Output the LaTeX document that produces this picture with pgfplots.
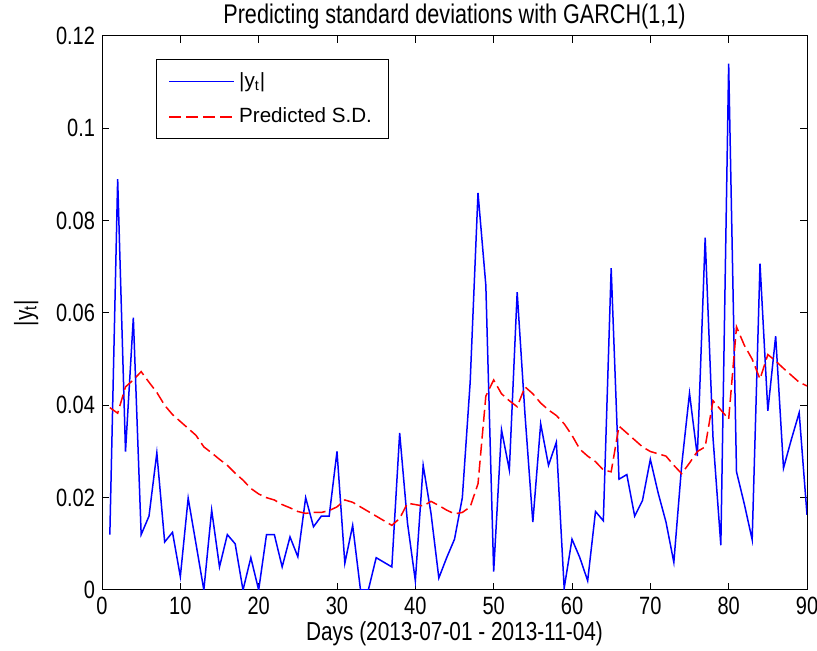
\documentclass[border=0pt]{standalone}
\usepackage{fontspec}
\setmainfont{Liberation Sans}[FakeStretch=0.8]
\newfontfamily\legfont{Liberation Sans}
\usepackage{pgfplots}
\pgfplotsset{compat=1.18}
\pgfplotstableread{
x y s
1 0.012 0.0395
2 0.089 0.0383
3 0.030 0.0440
4 0.059 0.0455
5 0.012 0.0473
6 0.016 0.0450
7 0.0297 0.0428
8 0.0104 0.0400
9 0.0125 0.0380
10 0.0029 0.0365
11 0.0199 0.0350
12 0.010 0.0335
13 0.000 0.0310
14 0.0173 0.0297
15 0.005 0.0283
16 0.012 0.0270
17 0.010 0.0253
18 0.000 0.0238
19 0.007 0.0220
20 0.000 0.0208
21 0.012 0.0200
22 0.012 0.0195
23 0.005 0.0185
24 0.0115 0.0178
25 0.0072 0.0170
26 0.020 0.0166
27 0.0137 0.0168
28 0.016 0.0168
29 0.016 0.0172
30 0.030 0.0180
31 0.0058 0.0195
32 0.014 0.0190
33 0.000 0.0180
34 0.000 0.0170
35 0.007 0.0160
36 0.006 0.0150
37 0.005 0.0140
38 0.034 0.0155
39 0.0145 0.0188
40 0.002 0.0185
41 0.027 0.0182
42 0.0166 0.0192
43 0.0026 0.0183
44 0.007 0.0173
45 0.011 0.0165
46 0.020 0.0168
47 0.045 0.0180
48 0.086 0.0230
49 0.066 0.0420
50 0.004 0.0455
51 0.0347 0.0425
52 0.026 0.0410
53 0.0645 0.0397
54 0.038 0.0440
55 0.0147 0.0425
56 0.036 0.0405
57 0.027 0.0390
58 0.032 0.0378
59 0.0004 0.0360
60 0.011 0.0335
61 0.007 0.0305
62 0.002 0.0290
63 0.017 0.0278
64 0.015 0.0260
65 0.0697 0.0256
66 0.024 0.0355
67 0.025 0.0340
68 0.016 0.0325
69 0.0194 0.0310
70 0.0283 0.0300
71 0.021 0.0295
72 0.0147 0.0290
73 0.006 0.0270
74 0.027 0.0252
75 0.0426 0.0275
76 0.029 0.0300
77 0.0763 0.0310
78 0.033 0.0410
79 0.0097 0.0390
80 0.114 0.0370
81 0.0256 0.0570
82 0.0186 0.0530
83 0.0109 0.0500
84 0.0707 0.0457
85 0.0388 0.0510
86 0.055 0.0496
87 0.0264 0.0480
88 0.0326 0.0465
89 0.0384 0.0450
90 0.0163 0.0442
}\datatable
\begin{document}
\begin{tikzpicture}
\begin{axis}[
  scale only axis, width=352.5pt, height=277pt,
  xmin=0, xmax=90, ymin=0, ymax=0.12,
  xtick={0,10,20,30,40,50,60,70,80,90},
  ytick={0,0.02,0.04,0.06,0.08,0.1,0.12},
  scaled y ticks=false,
  yticklabel style={/pgf/number format/fixed, /pgf/number format/precision=2},
  /pgf/number format/assume math mode=true,
  tick align=inside, major tick length=3.5pt,
  tick style={black, line width=0.5pt},
  axis line style={line width=0.5pt},
  every tick label/.append style={font=\fontsize{12.5}{14}\selectfont},
  title={Predicting standard deviations with GARCH(1,1)},
  title style={font=\fontsize{13.5}{15}\selectfont, at={(axis description cs:0.5,1)}, anchor=south, yshift=-6pt},
  xlabel={Days (2013-07-01 - 2013-11-04)},
  ylabel={|y\textsubscript{t}|},
  label style={font=\fontsize{13}{15}\selectfont},
  xlabel style={at={(axis description cs:0.5,0)}, anchor=base, yshift=-25.5pt},
  ylabel style={yshift=2pt},
  legend style={at={(rel axis cs:0.077,0.9585)}, anchor=north west, draw=black, fill=white,
    font=\legfont\fontsize{10.3}{12}\selectfont, inner xsep=6pt, inner ysep=4.5pt, row sep=4.8pt, cells={anchor=west}},
  legend image code/.code={\draw[#1] (0pt,0pt) -- (32.5pt,0pt);},
  legend cell align=left,
]
\addplot[blue, line width=0.75pt] table[x=x, y=y] {\datatable};
\addlegendentry{|y\textsubscript{t}|}
\addplot[red, line width=0.75pt, dash pattern=on 6pt off 2.5pt] table[x=x, y=s] {\datatable};
\addlegendentry{Predicted S.D.}
\end{axis}
\pgfresetboundingbox
\path ([shift={(-51pt,-30.5pt)}]current axis.south west) rectangle ([shift={(5pt,18pt)}]current axis.north east);
\end{tikzpicture}
\end{document}
